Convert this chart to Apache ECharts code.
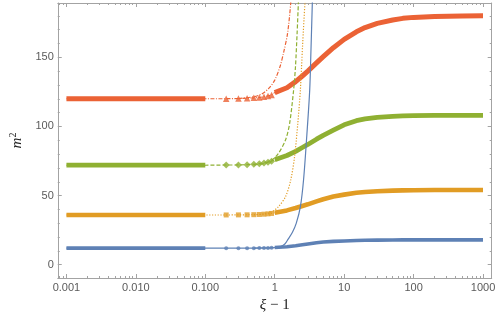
<!DOCTYPE html>
<html>
<head>
<meta charset="utf-8">
<script src="https://cdn.jsdelivr.net/npm/echarts@6/dist/echarts.min.js"></script>
<style>html,body{margin:0;padding:0;background:#fff}#c{width:498px;height:318px}</style>
</head>
<body>
<div id="c"></div>
<script>
// ---- data ----
const xMain = [0.001, 0.003, 0.01, 0.03, 0.1, 0.2, 0.3, 0.4, 0.5, 0.6, 0.7, 0.8, 0.9, 1, 1.5, 2, 2.5, 3, 4, 5, 7, 10, 15, 20, 30, 50, 70, 100, 200, 500, 1000];
const blueVals   = [12, 12, 12, 12, 12, 12, 12, 12, 12, 12.05, 12.1, 12.15, 12.25, 12.45, 13.0, 13.7, 14.4, 15.0, 15.9, 16.4, 16.9, 17.2, 17.5, 17.65, 17.8, 17.9, 17.95, 18, 18, 18, 18];
const orangeVals = [36, 36, 36, 36, 36, 36, 36.05, 36.1, 36.2, 36.35, 36.55, 36.8, 37.1, 37.6, 39.3, 41.0, 42.5, 43.7, 45.8, 47.4, 49.3, 50.7, 52.0, 52.6, 53.1, 53.6, 53.8, 53.9, 54, 54, 54];
const greenVals  = [72, 72, 72, 72, 72, 72.1, 72.2, 72.4, 72.7, 73.1, 73.6, 74.2, 74.9, 76.0, 79.0, 82.0, 84.8, 87.0, 90.8, 93.6, 97.3, 101.2, 104.2, 105.5, 106.6, 107.3, 107.6, 107.8, 108, 108, 108];
const redVals    = [120, 120, 120, 120, 120, 120.1, 120.2, 120.4, 120.7, 121.0, 121.5, 122.1, 122.8, 124.5, 128.0, 132.4, 136.5, 140.0, 146.0, 150.5, 157.0, 163.0, 168.5, 171.5, 174.6, 177.0, 178.2, 178.9, 179.5, 179.9, 180];

const blueSteepX   = [0.5, 1.0, 1.2, 1.4, 1.56, 1.8, 2.04, 2.34, 2.6, 2.9, 3.19, 3.33, 3.48, 3.6];
const blueSteepY   = [12, 12.3, 13.0, 15.0, 18.5, 23.5, 29.9, 41.9, 61.3, 93.7, 126.3, 156, 189.3, 215];
const orangeSteepX = [0.5, 0.7, 0.91, 1.13, 1.43, 1.7, 1.93, 2.15, 2.34, 2.52, 2.72, 2.82];
const orangeSteepY = [36.2, 36.8, 38.3, 42.0, 49.2, 61.3, 78.1, 102.3, 126.3, 158.9, 189.3, 205];
const greenSteepX  = [0.5, 0.7, 0.91, 1.13, 1.43, 1.64, 1.87, 1.99, 2.10, 2.19, 2.25];
const greenSteepY  = [72.2, 73.2, 75.7, 80.5, 90.2, 102.3, 126.3, 143.2, 167.3, 189.3, 205];
const redSteepX    = [0.3, 0.5, 0.65, 0.82, 1.0, 1.19, 1.35, 1.53, 1.70, 1.76];
const redSteepY    = [120.2, 121.5, 123.5, 127.5, 133.5, 143.2, 154, 167.3, 189.3, 205];

const xTickValues = [0.001, 0.01, 0.1, 1, 10, 100, 1000];
const xTickLabels = ['0.001', '0.010', '0.100', '1', '10', '100', '1000'];
const yTickValues = [0, 50, 100, 150];

// ---- styling ----
const COLORS = {blue: '#5E81B5', orange: '#E19C24', green: '#8FB032', red: '#EB6235'};
const FRAME = '#a3a3a3';
const L = Math.log10;

const xMajor = xTickValues.map(L);
const xMinor = [];
for (let d = -4; d <= 3; d++) for (let k = 2; k <= 9; k++) {
  const v = L(k) + d;
  if (v > -3.125 && v < 3.125) xMinor.push(v);
}
const yMinor = [];
for (let v = 10; v <= 180; v += 10) if (v % 50) yMinor.push(v);

function xAxisDef(pos, ticks, len, withLine, withLabel) {
  return {
    type: 'value', position: pos, min: -3.125, max: 3.125,
    splitLine: {show: false},
    axisLine: {show: withLine, onZero: false, lineStyle: {color: FRAME, width: 1}},
    axisTick: {show: true, inside: true, length: len, customValues: ticks, lineStyle: {color: FRAME, width: 1}},
    axisLabel: withLabel ? {
      show: true, customValues: xMajor, margin: 4, color: '#5a5a5a', fontSize: 11,
      fontFamily: 'Liberation Sans, Arial, sans-serif',
      formatter: v => { const i = xMajor.findIndex(t => Math.abs(t - v) < 1e-9); return i >= 0 ? xTickLabels[i] : ''; }
    } : {show: false},
    name: withLabel ? '{i|ξ} − 1' : '',
    nameLocation: 'middle', nameGap: 11,
    nameTextStyle: {color: '#222', fontSize: 15, fontFamily: 'Liberation Serif, serif',
      rich: {i: {fontStyle: 'italic', fontSize: 15, fontFamily: 'Liberation Serif, serif', color: '#222'}}}
  };
}
function yAxisDef(pos, ticks, len, withLine, withLabel) {
  return {
    type: 'value', position: pos, min: -9.6, max: 189.3,
    splitLine: {show: false},
    axisLine: {show: withLine, onZero: false, lineStyle: {color: FRAME, width: 1}},
    axisTick: {show: true, inside: true, length: len, customValues: ticks, lineStyle: {color: FRAME, width: 1}},
    axisLabel: withLabel ? {show: true, customValues: yTickValues, margin: 4, color: '#5a5a5a', fontSize: 11,
      fontFamily: 'Liberation Sans, Arial, sans-serif'} : {show: false},
    name: withLabel ? '{i|m}{s|2}' : '',
    nameLocation: 'middle', nameGap: 28, nameRotate: 90,
    nameTextStyle: {color: '#222', fontSize: 15,
      rich: {i: {fontStyle: 'italic', fontSize: 15, fontFamily: 'Liberation Serif, serif', color: '#222'},
             s: {fontSize: 10, fontFamily: 'Liberation Serif, serif', color: '#222', padding: [0, 0, 8, 0]}}}
  };
}

const defs = [
  {vals: blueVals,   color: COLORS.blue,   dash: 'solid',          sym: 'circle',   size: 4,   band: 3.6, sx: blueSteepX,   sy: blueSteepY},
  {vals: orangeVals, color: COLORS.orange, dash: [1.2, 1.6],       sym: 'rect',     size: 5,   band: 4.6, sx: orangeSteepX, sy: orangeSteepY},
  {vals: greenVals,  color: COLORS.green,  dash: [4, 2],           sym: 'diamond',  size: 7,   band: 4.8, sx: greenSteepX,  sy: greenSteepY},
  {vals: redVals,    color: COLORS.red,    dash: [4, 1.5, 1, 1.5], sym: 'triangle', size: 6.5, band: 5.0, sx: redSteepX,    sy: redSteepY}
];

const series = [];
defs.forEach((d, n) => {
  const pts = xMain.map((x, i) => [L(x), d.vals[i]]);
  series.push({type: 'line', data: pts, showSymbol: false, z: 2 + n * 0.01,
    lineStyle: {color: d.color, width: 1.1, type: d.dash}, itemStyle: {color: d.color}});
  series.push({type: 'line', data: pts.filter((p, i) => xMain[i] <= 0.1), showSymbol: false, z: 3 + n * 0.01,
    lineStyle: {color: d.color, width: d.band, cap: 'butt'}, itemStyle: {color: d.color}});
  series.push({type: 'line', data: pts.filter((p, i) => xMain[i] >= 1), showSymbol: false, z: 3 + n * 0.01,
    lineStyle: {color: d.color, width: d.band, cap: 'butt', join: 'round'}, itemStyle: {color: d.color}});
  series.push({type: 'scatter', data: pts.filter((p, i) => xMain[i] > 0.1 && xMain[i] < 1),
    symbol: d.sym, symbolSize: d.size, z: 4 + n * 0.01, itemStyle: {color: d.color}});
});
defs.forEach((d, n) => {
  series.push({type: 'line', data: d.sx.map((x, i) => [L(x), d.sy[i]]), showSymbol: false, smooth: 0.3,
    z: 5 + n * 0.01, clip: true,
    lineStyle: {color: d.color, width: 1.2, type: d.dash}, itemStyle: {color: d.color}});
});

const chart = echarts.init(document.getElementById('c'), null, {renderer: 'canvas'});
chart.setOption({
  animation: false,
  backgroundColor: '#fff',
  grid: {left: 45, right: 5, top: 3, bottom: 40, containLabel: false},
  xAxis: [
    xAxisDef('bottom', xMajor, 4, true, true),
    xAxisDef('bottom', xMinor, 2, false, false),
    xAxisDef('top', xMajor, 4, true, false),
    xAxisDef('top', xMinor, 2, false, false)
  ],
  yAxis: [
    yAxisDef('left', yTickValues, 4, true, true),
    yAxisDef('left', yMinor, 2, false, false),
    yAxisDef('right', yTickValues, 4, true, false),
    yAxisDef('right', yMinor, 2, false, false)
  ],
  series: series
});
</script>
</body>
</html>
